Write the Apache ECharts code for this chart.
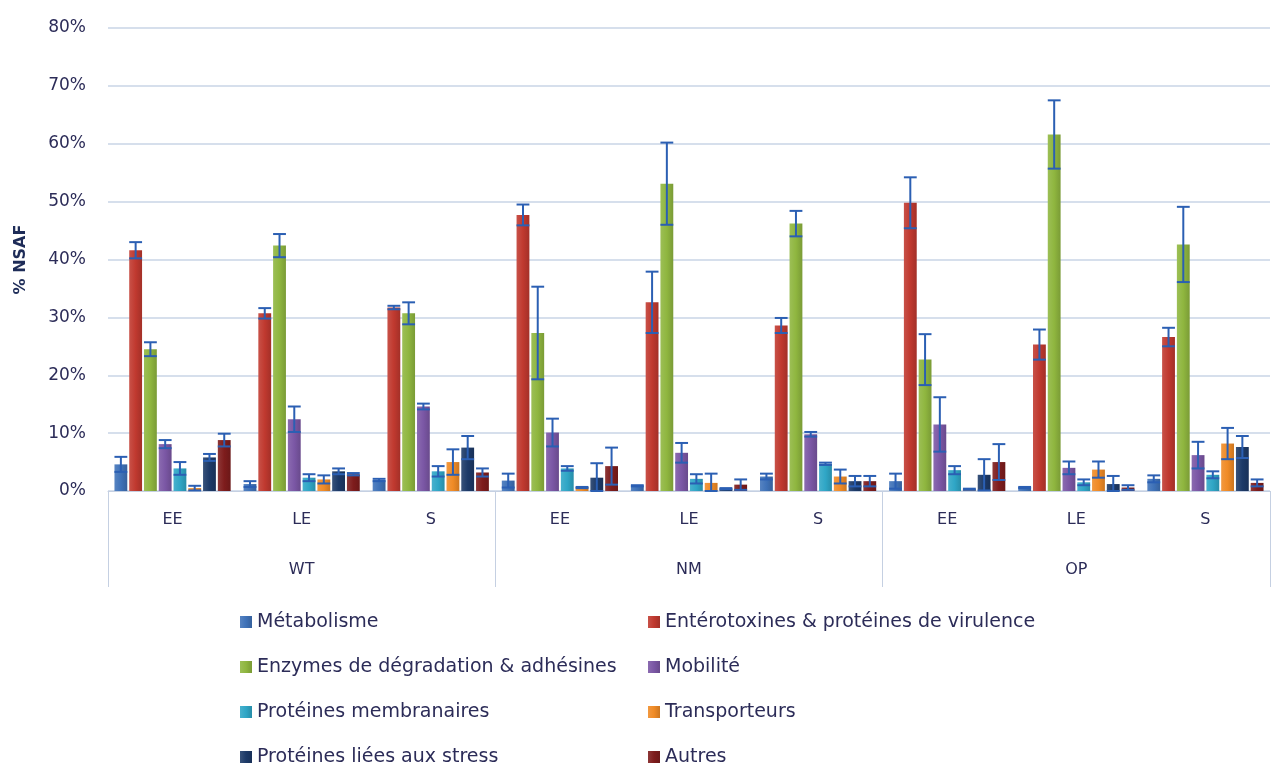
<!DOCTYPE html>
<html>
<head>
<meta charset="utf-8">
<script src="https://cdn.jsdelivr.net/npm/echarts@6/dist/echarts.min.js"></script>
<style>
  html, body { margin: 0; padding: 0; background: #fff; }
  #chart { width: 1281px; height: 765px; }
</style>
</head>
<body>
<div id="chart"></div>
<script>
const categories = ['EE', 'LE', 'S', 'EE', 'LE', 'S', 'EE', 'LE', 'S'];
const groups = ['WT', 'NM', 'OP'];

const seriesNames = [
  'Métabolisme',
  'Entérotoxines & protéines de virulence',
  'Enzymes de dégradation & adhésines',
  'Mobilité',
  'Protéines membranaires',
  'Transporteurs',
  'Protéines liées aux stress',
  'Autres'
];

// mean % NSAF per category (WT EE, LE, S, NM EE, LE, S, OP EE, LE, S)
const metabolisme     = [4.6, 1.2, 1.9, 1.8, 0.9, 2.5, 1.7, 0.6, 2.1];
const enterotoxines   = [41.6, 30.7, 31.7, 47.7, 32.6, 28.6, 49.8, 25.3, 26.6];
const enzymes         = [24.5, 42.4, 30.7, 27.3, 53.1, 46.2, 22.7, 61.6, 42.6];
const mobilite        = [8.1, 12.4, 14.6, 10.1, 6.6, 9.8, 11.5, 4.0, 6.2];
const membranaires    = [3.9, 2.3, 3.4, 3.9, 2.1, 4.7, 3.6, 1.5, 2.8];
const transporteurs   = [0.5, 2.0, 5.0, 0.6, 1.4, 2.5, 0.3, 3.7, 8.2];
const stress          = [5.8, 3.4, 7.5, 2.3, 0.4, 1.7, 2.8, 1.2, 7.6];
const autres          = [8.8, 2.9, 3.2, 4.3, 1.1, 1.7, 5.0, 0.6, 1.4];

// error bar half-widths
const metabolismeErr   = [1.3, 0.5, 0.2, 1.2, 0.1, 0.5, 1.3, 0.1, 0.6];
const enterotoxinesErr = [1.4, 0.9, 0.3, 1.8, 5.3, 1.3, 4.4, 2.6, 1.6];
const enzymesErr       = [1.2, 2.0, 1.9, 8.0, 7.1, 2.2, 4.4, 5.9, 6.5];
const mobiliteErr      = [0.7, 2.2, 0.5, 2.4, 1.7, 0.4, 4.7, 1.1, 2.3];
const membranairesErr  = [1.1, 0.6, 0.9, 0.4, 0.8, 0.2, 0.7, 0.5, 0.6];
const transporteursErr = [0.4, 0.7, 2.2, 0.1, 1.6, 1.2, 0.1, 1.4, 2.7];
const stressErr        = [0.6, 0.5, 2.0, 2.5, 0.1, 0.9, 2.7, 1.4, 1.9];
const autresErr        = [1.1, 0.2, 0.7, 3.2, 0.9, 0.9, 3.1, 0.4, 0.6];

const means = [metabolisme, enterotoxines, enzymes, mobilite, membranaires, transporteurs, stress, autres];
const errs = [metabolismeErr, enterotoxinesErr, enzymesErr, mobiliteErr, membranairesErr, transporteursErr, stressErr, autresErr];

const colors = ['#3f72b8', '#c0392f', '#8fb63f', '#7b57a5', '#2fa6c6', '#f08b26', '#1d3a68', '#7e1c1c'];
const errColor = '#2b5fb3';

const CAT_GAP = 0.10;
const BAR_GAP = 0.15;
const n = seriesNames.length;

function shade(hex, f) {
  const c = parseInt(hex.slice(1), 16);
  let r = (c >> 16) & 255, g = (c >> 8) & 255, b = c & 255;
  if (f > 0) { r += (255 - r) * f; g += (255 - g) * f; b += (255 - b) * f; }
  else { r *= 1 + f; g *= 1 + f; b *= 1 + f; }
  return 'rgb(' + Math.round(r) + ',' + Math.round(g) + ',' + Math.round(b) + ')';
}

const chart = echarts.init(document.getElementById('chart'));
const series = [];

for (let i = 0; i < n; i++) {
  series.push({
    name: seriesNames[i],
    type: 'bar',
    barGap: (BAR_GAP * 100) + '%',
    barCategoryGap: (CAT_GAP * 100) + '%',
    itemStyle: {
      color: new echarts.graphic.LinearGradient(0, 0, 1, 0, [
        { offset: 0, color: shade(colors[i], 0.12) },
        { offset: 0.5, color: colors[i] },
        { offset: 1, color: shade(colors[i], -0.15) }
      ])
    },
    data: means[i]
  });
}

// error bars, placed over each bar of the group
for (let i = 0; i < n; i++) {
  const idx = i;
  series.push({
    type: 'custom',
    z: 10,
    silent: true,
    encode: { x: 0, y: 1 },
    data: means[i].map((v, k) => [k, v, errs[i][k]]),
    renderItem: function (params, api) {
      const cat = api.value(0);
      const mean = api.value(1);
      const err = api.value(2);
      const band = api.size([1, 0])[0];
      const avail = band * (1 - CAT_GAP);
      const bw = avail / (n + (n - 1) * BAR_GAP);
      const center = api.coord([cat, mean]);
      const x = center[0] - avail / 2 + idx * bw * (1 + BAR_GAP) + bw / 2;
      const yTop = api.coord([cat, mean + err])[1];
      const yBot = api.coord([cat, Math.max(0, mean - err)])[1];
      const half = bw / 2;
      const style = { stroke: errColor, lineWidth: 2 };
      return {
        type: 'group',
        children: [
          { type: 'line', shape: { x1: x, y1: yTop, x2: x, y2: yBot }, style: style },
          { type: 'line', shape: { x1: x - half, y1: yTop, x2: x + half, y2: yTop }, style: style },
          { type: 'line', shape: { x1: x - half, y1: yBot, x2: x + half, y2: yBot }, style: style }
        ]
      };
    }
  });
}

const textColor = '#2c2c58';
const fontFamily = '"DejaVu Sans", "Noto Sans", sans-serif';

const legendBase = {
  orient: 'vertical',
  top: 612,
  height: 200,
  padding: 0,
  itemWidth: 12, itemHeight: 12, itemGap: 25,
  icon: 'rect',
  textStyle: { fontSize: 19, color: textColor, lineHeight: 20, fontFamily: fontFamily }
};

chart.setOption({
  backgroundColor: '#ffffff',
  animation: false,
  textStyle: { fontFamily: fontFamily },
  grid: { left: 108, right: 11, top: 28, bottom: 274 },
  legend: [
    Object.assign({}, legendBase, {
      left: 240,
      data: [seriesNames[0], seriesNames[2], seriesNames[4], seriesNames[6]]
    }),
    Object.assign({}, legendBase, {
      left: 648,
      data: [seriesNames[1], seriesNames[3], seriesNames[5], seriesNames[7]]
    })
  ],
  xAxis: [
    {
      type: 'category',
      data: categories,
      axisLine: { show: true, lineStyle: { color: '#c5d0e2', width: 1 } },
      axisTick: { show: false },
      axisLabel: { fontSize: 16, color: textColor, margin: 21 },
      splitLine: { show: false }
    },
    {
      type: 'category',
      data: groups,
      position: 'bottom',
      axisLine: { show: false },
      axisTick: { show: true, length: 96, lineStyle: { color: '#c5d0e2' } },
      axisLabel: { fontSize: 16, color: textColor, margin: 71 },
      splitLine: { show: false }
    }
  ],
  yAxis: {
    type: 'value',
    min: 0, max: 80, interval: 10,
    name: '% NSAF',
    nameLocation: 'middle',
    nameGap: 79,
    nameRotate: 90,
    nameTextStyle: { fontSize: 16, fontWeight: 'bold', color: '#1e2c58' },
    axisLine: { show: false },
    axisTick: { show: false },
    axisLabel: { fontSize: 17, color: textColor, margin: 22, formatter: '{value}%' },
    splitLine: { lineStyle: { color: '#c9d5e6', width: 1.5 } }
  },
  series: series
});
</script>
</body>
</html>
